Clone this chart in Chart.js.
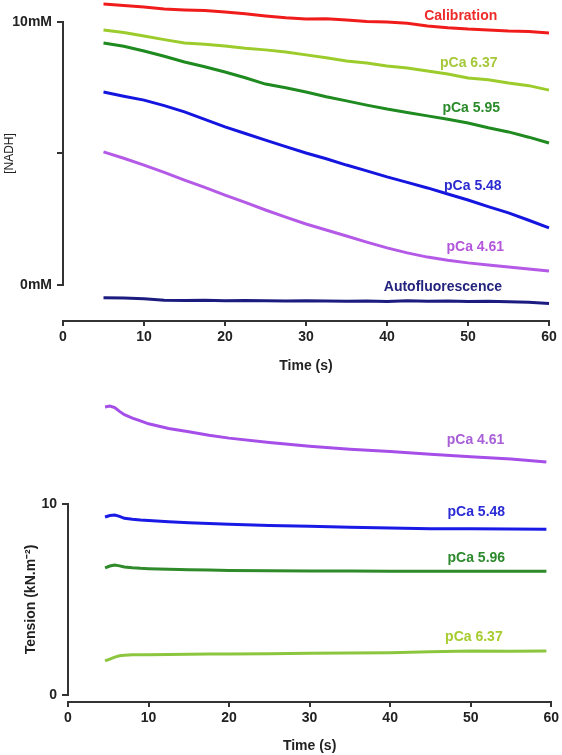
<!DOCTYPE html>
<html>
<head>
<meta charset="utf-8">
<script src="https://cdn.jsdelivr.net/npm/chart.js@4.4.1/dist/chart.umd.min.js"></script>
<style>
    body { margin: 0; background: #fff; }
    canvas { position: absolute; left: 0; }
    #nadhChart { top: 0; }
    #tensionChart { top: 380px; }
</style>
</head>
<body>
<canvas id="nadhChart" width="562" height="380"></canvas>
<canvas id="tensionChart" width="562" height="375"></canvas>
<script>
// NADH traces (mM), read every 2.5 s
var nadhTime = [5, 7.5, 10, 12.5, 15, 17.5, 20, 22.5, 25, 27.5, 30, 32.5, 35, 37.5, 40, 42.5, 45, 47.5, 50, 52.5, 55, 57.5, 60];
var calibration = [10.68, 10.63, 10.57, 10.49, 10.46, 10.44, 10.38, 10.31, 10.23, 10.16, 10.11, 10.12, 10.08, 10.02, 10.0, 9.95, 9.85, 9.78, 9.73, 9.70, 9.66, 9.64, 9.58];
var nadh637 = [9.70, 9.60, 9.47, 9.33, 9.20, 9.15, 9.09, 9.00, 8.94, 8.86, 8.75, 8.64, 8.52, 8.44, 8.33, 8.25, 8.14, 8.02, 7.87, 7.80, 7.68, 7.58, 7.41];
var nadh595 = [9.20, 9.08, 8.90, 8.70, 8.48, 8.30, 8.10, 7.88, 7.64, 7.50, 7.34, 7.16, 7.00, 6.84, 6.69, 6.56, 6.43, 6.30, 6.16, 5.98, 5.82, 5.62, 5.40];
var nadh548 = [7.34, 7.18, 7.03, 6.82, 6.58, 6.30, 6.01, 5.76, 5.51, 5.26, 5.02, 4.80, 4.56, 4.34, 4.11, 3.90, 3.69, 3.46, 3.23, 2.98, 2.74, 2.46, 2.17];
var nadh461 = [5.06, 4.82, 4.56, 4.28, 3.99, 3.71, 3.42, 3.14, 2.85, 2.58, 2.32, 2.09, 1.86, 1.63, 1.41, 1.22, 1.06, 0.94, 0.84, 0.76, 0.68, 0.61, 0.53];
var autofluorescence = [-0.49, -0.50, -0.52, -0.58, -0.59, -0.58, -0.60, -0.59, -0.60, -0.61, -0.60, -0.61, -0.62, -0.61, -0.63, -0.60, -0.62, -0.61, -0.63, -0.62, -0.64, -0.66, -0.70];
var nadhTicks = [0, 5, 10];

// Tension traces (kN.m-2)
var tensionTime = [4.6, 5.2, 5.8, 6.4, 7, 8, 9, 10, 12.5, 15, 17.5, 20, 25, 30, 35, 40, 45, 50, 55, 59.4];
var tension461 = [15.08, 15.13, 15.05, 14.85, 14.68, 14.50, 14.35, 14.20, 13.95, 13.78, 13.60, 13.45, 13.22, 13.03, 12.87, 12.75, 12.61, 12.48, 12.36, 12.20];
var tension548 = [9.32, 9.40, 9.42, 9.35, 9.25, 9.20, 9.16, 9.13, 9.07, 9.02, 8.98, 8.94, 8.88, 8.83, 8.78, 8.74, 8.71, 8.70, 8.69, 8.68];
var tension596 = [6.65, 6.75, 6.80, 6.76, 6.70, 6.66, 6.63, 6.61, 6.58, 6.55, 6.54, 6.52, 6.50, 6.49, 6.49, 6.48, 6.48, 6.48, 6.48, 6.48];
var tension637 = [1.78, 1.88, 1.98, 2.05, 2.08, 2.10, 2.10, 2.11, 2.12, 2.13, 2.14, 2.15, 2.16, 2.18, 2.19, 2.21, 2.26, 2.30, 2.29, 2.30];
var tensionTicks = [0, 10];

var xTicks = [0, 10, 20, 30, 40, 50, 60];

Chart.defaults.font.family = 'Arial, "Liberation Sans", sans-serif';
Chart.defaults.color = '#222';

function pts(xs, ys) {
    return ys.map(function(v, i) { return {x: xs[i], y: v}; });
}

function trace(data, color, width) {
    return {data: data, borderColor: color, borderWidth: width, pointRadius: 0, tension: 0, clip: false};
}

// draws the short y axis line, rotated y title and the trace names
function overlay(cfg) {
    return {
        id: 'overlay',
        afterDraw: function(chart) {
            var ctx = chart.ctx, xs = chart.scales.x, ys = chart.scales.y;
            var left = chart.chartArea.left;
            var yTop = ys.getPixelForValue(cfg.axisTo), yBot = ys.getPixelForValue(cfg.axisFrom);
            ctx.save();
            ctx.strokeStyle = '#333';
            ctx.lineWidth = 2;
            ctx.beginPath();
            ctx.moveTo(left, yTop - 1);
            ctx.lineTo(left, yBot + 1);
            ctx.stroke();

            ctx.translate(cfg.titleX, (yTop + yBot) / 2);
            ctx.rotate(-Math.PI / 2);
            ctx.font = cfg.titleFont;
            ctx.fillStyle = '#222';
            ctx.textAlign = 'center';
            ctx.textBaseline = 'middle';
            ctx.fillText(cfg.title, 0, 0);
            ctx.restore();

            ctx.save();
            ctx.font = 'bold 14px Arial, "Liberation Sans", sans-serif';
            ctx.textAlign = 'center';
            ctx.textBaseline = 'middle';
            cfg.labels.forEach(function(l) {
                ctx.fillStyle = l.color;
                ctx.fillText(l.text, xs.getPixelForValue(l.t), ys.getPixelForValue(l.v));
            });
            ctx.restore();
        }
    };
}

function xScale(height, titlePad) {
    return {
        type: 'linear', min: 0, max: 60,
        afterBuildTicks: function(s) { s.ticks = xTicks.map(function(v) { return {value: v}; }); },
        ticks: {color: '#222', font: {size: 14, weight: 'bold'}, padding: 3, maxRotation: 0},
        grid: {drawOnChartArea: false, tickLength: 5, color: '#333', lineWidth: 2},
        border: {color: '#333', width: 2},
        title: {display: true, text: 'Time (s)', color: '#222', font: {size: 14, weight: 'bold'}, padding: {top: 0, bottom: titlePad}},
        afterFit: function(s) { s.height = height; }
    };
}

new Chart(document.getElementById('nadhChart'), {
    type: 'line',
    data: {
        datasets: [
            trace(pts(nadhTime, calibration), '#f01c1c', 3),
            trace(pts(nadhTime, nadh637), '#9ccc2c', 3),
            trace(pts(nadhTime, nadh595), '#1f8a1f', 3),
            trace(pts(nadhTime, nadh548), '#1515e0', 3),
            trace(pts(nadhTime, nadh461), '#b45ae6', 3),
            trace(pts(nadhTime, autofluorescence), '#1c1c80', 3)
        ]
    },
    options: {
        responsive: false,
        animation: false,
        layout: {padding: {top: 22, right: 13, left: 0, bottom: 0}},
        plugins: {legend: {display: false}, tooltip: {enabled: false}},
        scales: {
            x: xScale(59, 5),
            y: {
                min: -1.37, max: 10,
                afterBuildTicks: function(s) { s.ticks = nadhTicks.map(function(v) { return {value: v}; }); },
                ticks: {
                    color: '#222', font: {size: 14, weight: 'bold'}, padding: 5,
                    callback: function(v) { return v === 10 ? '10mM' : (v === 0 ? '0mM' : ''); }
                },
                grid: {drawOnChartArea: false, tickLength: 6, color: '#333', lineWidth: 2},
                border: {display: false},
                afterFit: function(s) { s.width = 63; }
            }
        }
    },
    plugins: [overlay({
        axisFrom: 0, axisTo: 10, titleX: 10, title: '[NADH]', titleFont: '12px Arial, "Liberation Sans", sans-serif',
        labels: [
            {text: 'Calibration', t: 49.1, v: 10.23, color: '#ee2a2a'},
            {text: 'pCa 6.37', t: 50.1, v: 8.44, color: '#a5c83a'},
            {text: 'pCa 5.95', t: 50.4, v: 6.73, color: '#2b8b2b'},
            {text: 'pCa 5.48', t: 50.6, v: 3.76, color: '#2a2ad0'},
            {text: 'pCa 4.61', t: 50.9, v: 1.44, color: '#b456dc'},
            {text: 'Autofluorescence', t: 46.9, v: -0.08, color: '#24247e'}
        ]
    })]
});

new Chart(document.getElementById('tensionChart'), {
    type: 'line',
    data: {
        datasets: [
            trace(pts(tensionTime, tension461), '#a64ee8', 3),
            trace(pts(tensionTime, tension548), '#1a1ae6', 3),
            trace(pts(tensionTime, tension596), '#2f8a2a', 3),
            trace(pts(tensionTime, tension637), '#8cc63e', 3)
        ]
    },
    options: {
        responsive: false,
        animation: false,
        layout: {padding: {top: 124, right: 10, left: 0, bottom: 0}},
        plugins: {legend: {display: false}, tooltip: {enabled: false}},
        scales: {
            x: xScale(53, 0),
            y: {
                min: -0.37, max: 10,
                afterBuildTicks: function(s) { s.ticks = tensionTicks.map(function(v) { return {value: v}; }); },
                ticks: {color: '#222', font: {size: 14, weight: 'bold'}, padding: 5},
                grid: {drawOnChartArea: false, tickLength: 6, color: '#333', lineWidth: 2},
                border: {display: false},
                afterFit: function(s) { s.width = 68; }
            }
        }
    },
    plugins: [overlay({
        axisFrom: 0, axisTo: 10, titleX: 31, title: 'Tension (kN.m\u207B\u00B2)', titleFont: 'bold 14px Arial, "Liberation Sans", sans-serif',
        labels: [
            {text: 'pCa 4.61', t: 50.6, v: 13.35, color: '#a860d8'},
            {text: 'pCa 5.48', t: 50.7, v: 9.58, color: '#2a2ad6'},
            {text: 'pCa 5.96', t: 50.7, v: 7.17, color: '#2e8a2e'},
            {text: 'pCa 6.37', t: 50.4, v: 3.04, color: '#a6cc30'}
        ]
    })]
});
</script>
</body>
</html>
